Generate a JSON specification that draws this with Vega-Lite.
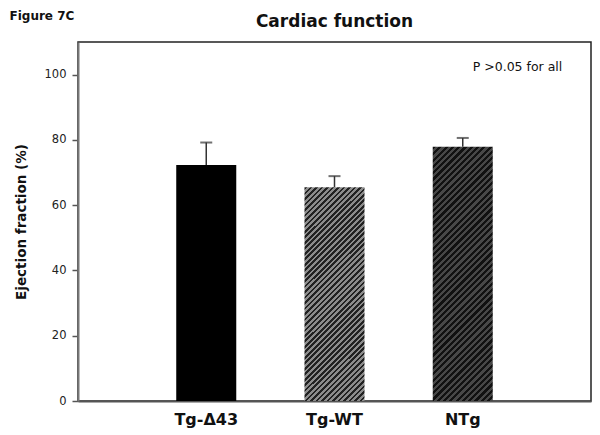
{
  "$schema": "https://vega.github.io/schema/vega-lite/v6.json",
  "width": 513,
  "height": 359,
  "autosize": {"type": "none"},
  "padding": {"left": 78, "top": 42, "right": 9, "bottom": 34},
  "background": "white",
  "config": {"view": {"stroke": "#222", "strokeWidth": 1.5}, "font": "DejaVu Sans"},
  "title": {"text": "Cardiac function", "fontSize": 17, "fontWeight": "bold", "font": "DejaVu Sans", "color": "#111", "offset": -22},
  "data": {"values": [
    {"group": "Tg-Δ43", "ef": 72.3, "upper": 79.2},
    {"group": "Tg-WT", "ef": 65.5, "upper": 68.9},
    {"group": "NTg", "ef": 77.9, "upper": 80.6}
  ]},
  "resolve": {"axis": {"x": "independent"}},
  "layer": [
    {
      "transform": [{"filter": "datum.group === 'Tg-Δ43'"}],
      "mark": {"type": "bar", "fill": "#000000"},
      "encoding": {
        "x": {"field": "group", "type": "nominal", "sort": null,
          "scale": {"domain": ["Tg-Δ43", "Tg-WT", "NTg"], "paddingInner": 0.532, "paddingOuter": 0.766},
          "axis": {"title": null, "ticks": false, "labelAngle": 0, "labelFontSize": 16, "labelFontWeight": "bold", "labelColor": "#111", "labelPadding": 10, "domainColor": "#555", "domainWidth": 2}},
        "y": {"field": "ef", "type": "quantitative", "scale": {"domain": [0, 110]},
          "axis": {"values": [0, 20, 40, 60, 80, 100], "grid": false, "title": "Ejection fraction (%)", "titleFontSize": 13.5, "titleFontWeight": "bold", "titleColor": "#111", "titlePadding": 16, "labelFontSize": 11.5, "labelColor": "#222", "labelPadding": 6, "tickSize": 6, "tickColor": "#555", "tickWidth": 1.5, "domainColor": "#777", "domainWidth": 2}}
      }
    },
    {
      "transform": [{"filter": "datum.group === 'Tg-WT'"}],
      "mark": {"type": "bar", "fill": {"gradient": "linear", "x1": 0, "y1": 0, "x2": 0.3328, "y2": 1.187, "stops": [
        {"offset": 0, "color": "#222"},
        {"offset": 0.01, "color": "#222"}, {"offset": 0.01, "color": "#8c8c8c"}, {"offset": 0.02, "color": "#8c8c8c"}, {"offset": 0.02, "color": "#222"},
        {"offset": 0.03, "color": "#222"}, {"offset": 0.03, "color": "#8c8c8c"}, {"offset": 0.04, "color": "#8c8c8c"}, {"offset": 0.04, "color": "#222"},
        {"offset": 0.05, "color": "#222"}, {"offset": 0.05, "color": "#8c8c8c"}, {"offset": 0.06, "color": "#8c8c8c"}, {"offset": 0.06, "color": "#222"},
        {"offset": 0.07, "color": "#222"}, {"offset": 0.07, "color": "#8c8c8c"}, {"offset": 0.08, "color": "#8c8c8c"}, {"offset": 0.08, "color": "#222"},
        {"offset": 0.09, "color": "#222"}, {"offset": 0.09, "color": "#8c8c8c"}, {"offset": 0.10, "color": "#8c8c8c"}, {"offset": 0.10, "color": "#222"},
        {"offset": 0.11, "color": "#222"}, {"offset": 0.11, "color": "#8c8c8c"}, {"offset": 0.12, "color": "#8c8c8c"}, {"offset": 0.12, "color": "#222"},
        {"offset": 0.13, "color": "#222"}, {"offset": 0.13, "color": "#8c8c8c"}, {"offset": 0.14, "color": "#8c8c8c"}, {"offset": 0.14, "color": "#222"},
        {"offset": 0.15, "color": "#222"}, {"offset": 0.15, "color": "#8c8c8c"}, {"offset": 0.16, "color": "#8c8c8c"}, {"offset": 0.16, "color": "#222"},
        {"offset": 0.17, "color": "#222"}, {"offset": 0.17, "color": "#8c8c8c"}, {"offset": 0.18, "color": "#8c8c8c"}, {"offset": 0.18, "color": "#222"},
        {"offset": 0.19, "color": "#222"}, {"offset": 0.19, "color": "#8c8c8c"}, {"offset": 0.20, "color": "#8c8c8c"}, {"offset": 0.20, "color": "#222"},
        {"offset": 0.21, "color": "#222"}, {"offset": 0.21, "color": "#8c8c8c"}, {"offset": 0.22, "color": "#8c8c8c"}, {"offset": 0.22, "color": "#222"},
        {"offset": 0.23, "color": "#222"}, {"offset": 0.23, "color": "#8c8c8c"}, {"offset": 0.24, "color": "#8c8c8c"}, {"offset": 0.24, "color": "#222"},
        {"offset": 0.25, "color": "#222"}, {"offset": 0.25, "color": "#8c8c8c"}, {"offset": 0.26, "color": "#8c8c8c"}, {"offset": 0.26, "color": "#222"},
        {"offset": 0.27, "color": "#222"}, {"offset": 0.27, "color": "#8c8c8c"}, {"offset": 0.28, "color": "#8c8c8c"}, {"offset": 0.28, "color": "#222"},
        {"offset": 0.29, "color": "#222"}, {"offset": 0.29, "color": "#8c8c8c"}, {"offset": 0.30, "color": "#8c8c8c"}, {"offset": 0.30, "color": "#222"},
        {"offset": 0.31, "color": "#222"}, {"offset": 0.31, "color": "#8c8c8c"}, {"offset": 0.32, "color": "#8c8c8c"}, {"offset": 0.32, "color": "#222"},
        {"offset": 0.33, "color": "#222"}, {"offset": 0.33, "color": "#8c8c8c"}, {"offset": 0.34, "color": "#8c8c8c"}, {"offset": 0.34, "color": "#222"},
        {"offset": 0.35, "color": "#222"}, {"offset": 0.35, "color": "#8c8c8c"}, {"offset": 0.36, "color": "#8c8c8c"}, {"offset": 0.36, "color": "#222"},
        {"offset": 0.37, "color": "#222"}, {"offset": 0.37, "color": "#8c8c8c"}, {"offset": 0.38, "color": "#8c8c8c"}, {"offset": 0.38, "color": "#222"},
        {"offset": 0.39, "color": "#222"}, {"offset": 0.39, "color": "#8c8c8c"}, {"offset": 0.40, "color": "#8c8c8c"}, {"offset": 0.40, "color": "#222"},
        {"offset": 0.41, "color": "#222"}, {"offset": 0.41, "color": "#8c8c8c"}, {"offset": 0.42, "color": "#8c8c8c"}, {"offset": 0.42, "color": "#222"},
        {"offset": 0.43, "color": "#222"}, {"offset": 0.43, "color": "#8c8c8c"}, {"offset": 0.44, "color": "#8c8c8c"}, {"offset": 0.44, "color": "#222"},
        {"offset": 0.45, "color": "#222"}, {"offset": 0.45, "color": "#8c8c8c"}, {"offset": 0.46, "color": "#8c8c8c"}, {"offset": 0.46, "color": "#222"},
        {"offset": 0.47, "color": "#222"}, {"offset": 0.47, "color": "#8c8c8c"}, {"offset": 0.48, "color": "#8c8c8c"}, {"offset": 0.48, "color": "#222"},
        {"offset": 0.49, "color": "#222"}, {"offset": 0.49, "color": "#8c8c8c"}, {"offset": 0.50, "color": "#8c8c8c"}, {"offset": 0.50, "color": "#222"},
        {"offset": 0.51, "color": "#222"}, {"offset": 0.51, "color": "#8c8c8c"}, {"offset": 0.52, "color": "#8c8c8c"}, {"offset": 0.52, "color": "#222"},
        {"offset": 0.53, "color": "#222"}, {"offset": 0.53, "color": "#8c8c8c"}, {"offset": 0.54, "color": "#8c8c8c"}, {"offset": 0.54, "color": "#222"},
        {"offset": 0.55, "color": "#222"}, {"offset": 0.55, "color": "#8c8c8c"}, {"offset": 0.56, "color": "#8c8c8c"}, {"offset": 0.56, "color": "#222"},
        {"offset": 0.57, "color": "#222"}, {"offset": 0.57, "color": "#8c8c8c"}, {"offset": 0.58, "color": "#8c8c8c"}, {"offset": 0.58, "color": "#222"},
        {"offset": 0.59, "color": "#222"}, {"offset": 0.59, "color": "#8c8c8c"}, {"offset": 0.60, "color": "#8c8c8c"}, {"offset": 0.60, "color": "#222"},
        {"offset": 0.61, "color": "#222"}, {"offset": 0.61, "color": "#8c8c8c"}, {"offset": 0.62, "color": "#8c8c8c"}, {"offset": 0.62, "color": "#222"},
        {"offset": 0.63, "color": "#222"}, {"offset": 0.63, "color": "#8c8c8c"}, {"offset": 0.64, "color": "#8c8c8c"}, {"offset": 0.64, "color": "#222"},
        {"offset": 0.65, "color": "#222"}, {"offset": 0.65, "color": "#8c8c8c"}, {"offset": 0.66, "color": "#8c8c8c"}, {"offset": 0.66, "color": "#222"},
        {"offset": 0.67, "color": "#222"}, {"offset": 0.67, "color": "#8c8c8c"}, {"offset": 0.68, "color": "#8c8c8c"}, {"offset": 0.68, "color": "#222"},
        {"offset": 0.69, "color": "#222"}, {"offset": 0.69, "color": "#8c8c8c"}, {"offset": 0.70, "color": "#8c8c8c"}, {"offset": 0.70, "color": "#222"},
        {"offset": 0.71, "color": "#222"}, {"offset": 0.71, "color": "#8c8c8c"}, {"offset": 0.72, "color": "#8c8c8c"}, {"offset": 0.72, "color": "#222"},
        {"offset": 0.73, "color": "#222"}, {"offset": 0.73, "color": "#8c8c8c"}, {"offset": 0.74, "color": "#8c8c8c"}, {"offset": 0.74, "color": "#222"},
        {"offset": 0.75, "color": "#222"}, {"offset": 0.75, "color": "#8c8c8c"}, {"offset": 0.76, "color": "#8c8c8c"}, {"offset": 0.76, "color": "#222"},
        {"offset": 0.77, "color": "#222"}, {"offset": 0.77, "color": "#8c8c8c"}, {"offset": 0.78, "color": "#8c8c8c"}, {"offset": 0.78, "color": "#222"},
        {"offset": 0.79, "color": "#222"}, {"offset": 0.79, "color": "#8c8c8c"}, {"offset": 0.80, "color": "#8c8c8c"}, {"offset": 0.80, "color": "#222"},
        {"offset": 0.81, "color": "#222"}, {"offset": 0.81, "color": "#8c8c8c"}, {"offset": 0.82, "color": "#8c8c8c"}, {"offset": 0.82, "color": "#222"},
        {"offset": 0.83, "color": "#222"}, {"offset": 0.83, "color": "#8c8c8c"}, {"offset": 0.84, "color": "#8c8c8c"}, {"offset": 0.84, "color": "#222"},
        {"offset": 0.85, "color": "#222"}, {"offset": 0.85, "color": "#8c8c8c"}, {"offset": 0.86, "color": "#8c8c8c"}, {"offset": 0.86, "color": "#222"},
        {"offset": 0.87, "color": "#222"}, {"offset": 0.87, "color": "#8c8c8c"}, {"offset": 0.88, "color": "#8c8c8c"}, {"offset": 0.88, "color": "#222"},
        {"offset": 0.89, "color": "#222"}, {"offset": 0.89, "color": "#8c8c8c"}, {"offset": 0.90, "color": "#8c8c8c"}, {"offset": 0.90, "color": "#222"},
        {"offset": 0.91, "color": "#222"}, {"offset": 0.91, "color": "#8c8c8c"}, {"offset": 0.92, "color": "#8c8c8c"}, {"offset": 0.92, "color": "#222"},
        {"offset": 0.93, "color": "#222"}, {"offset": 0.93, "color": "#8c8c8c"}, {"offset": 0.94, "color": "#8c8c8c"}, {"offset": 0.94, "color": "#222"},
        {"offset": 0.95, "color": "#222"}, {"offset": 0.95, "color": "#8c8c8c"}, {"offset": 0.96, "color": "#8c8c8c"}, {"offset": 0.96, "color": "#222"},
        {"offset": 0.97, "color": "#222"}, {"offset": 0.97, "color": "#8c8c8c"}, {"offset": 0.98, "color": "#8c8c8c"}, {"offset": 0.98, "color": "#222"},
        {"offset": 0.99, "color": "#222"}, {"offset": 0.99, "color": "#8c8c8c"}, {"offset": 1, "color": "#8c8c8c"}
      ]}},
      "encoding": {
        "x": {"field": "group", "type": "nominal", "sort": null, "axis": null},
        "y": {"field": "ef", "type": "quantitative"}
      }
    },
    {
      "transform": [{"filter": "datum.group === 'NTg'"}],
      "mark": {"type": "bar", "fill": {"gradient": "linear", "x1": 0, "y1": 0, "x2": 0.2766, "y2": 1.171, "stops": [
        {"offset": 0, "color": "#111"},
        {"offset": 0.01, "color": "#111"}, {"offset": 0.01, "color": "#474747"}, {"offset": 0.02, "color": "#474747"}, {"offset": 0.02, "color": "#111"},
        {"offset": 0.03, "color": "#111"}, {"offset": 0.03, "color": "#474747"}, {"offset": 0.04, "color": "#474747"}, {"offset": 0.04, "color": "#111"},
        {"offset": 0.05, "color": "#111"}, {"offset": 0.05, "color": "#474747"}, {"offset": 0.06, "color": "#474747"}, {"offset": 0.06, "color": "#111"},
        {"offset": 0.07, "color": "#111"}, {"offset": 0.07, "color": "#474747"}, {"offset": 0.08, "color": "#474747"}, {"offset": 0.08, "color": "#111"},
        {"offset": 0.09, "color": "#111"}, {"offset": 0.09, "color": "#474747"}, {"offset": 0.10, "color": "#474747"}, {"offset": 0.10, "color": "#111"},
        {"offset": 0.11, "color": "#111"}, {"offset": 0.11, "color": "#474747"}, {"offset": 0.12, "color": "#474747"}, {"offset": 0.12, "color": "#111"},
        {"offset": 0.13, "color": "#111"}, {"offset": 0.13, "color": "#474747"}, {"offset": 0.14, "color": "#474747"}, {"offset": 0.14, "color": "#111"},
        {"offset": 0.15, "color": "#111"}, {"offset": 0.15, "color": "#474747"}, {"offset": 0.16, "color": "#474747"}, {"offset": 0.16, "color": "#111"},
        {"offset": 0.17, "color": "#111"}, {"offset": 0.17, "color": "#474747"}, {"offset": 0.18, "color": "#474747"}, {"offset": 0.18, "color": "#111"},
        {"offset": 0.19, "color": "#111"}, {"offset": 0.19, "color": "#474747"}, {"offset": 0.20, "color": "#474747"}, {"offset": 0.20, "color": "#111"},
        {"offset": 0.21, "color": "#111"}, {"offset": 0.21, "color": "#474747"}, {"offset": 0.22, "color": "#474747"}, {"offset": 0.22, "color": "#111"},
        {"offset": 0.23, "color": "#111"}, {"offset": 0.23, "color": "#474747"}, {"offset": 0.24, "color": "#474747"}, {"offset": 0.24, "color": "#111"},
        {"offset": 0.25, "color": "#111"}, {"offset": 0.25, "color": "#474747"}, {"offset": 0.26, "color": "#474747"}, {"offset": 0.26, "color": "#111"},
        {"offset": 0.27, "color": "#111"}, {"offset": 0.27, "color": "#474747"}, {"offset": 0.28, "color": "#474747"}, {"offset": 0.28, "color": "#111"},
        {"offset": 0.29, "color": "#111"}, {"offset": 0.29, "color": "#474747"}, {"offset": 0.30, "color": "#474747"}, {"offset": 0.30, "color": "#111"},
        {"offset": 0.31, "color": "#111"}, {"offset": 0.31, "color": "#474747"}, {"offset": 0.32, "color": "#474747"}, {"offset": 0.32, "color": "#111"},
        {"offset": 0.33, "color": "#111"}, {"offset": 0.33, "color": "#474747"}, {"offset": 0.34, "color": "#474747"}, {"offset": 0.34, "color": "#111"},
        {"offset": 0.35, "color": "#111"}, {"offset": 0.35, "color": "#474747"}, {"offset": 0.36, "color": "#474747"}, {"offset": 0.36, "color": "#111"},
        {"offset": 0.37, "color": "#111"}, {"offset": 0.37, "color": "#474747"}, {"offset": 0.38, "color": "#474747"}, {"offset": 0.38, "color": "#111"},
        {"offset": 0.39, "color": "#111"}, {"offset": 0.39, "color": "#474747"}, {"offset": 0.40, "color": "#474747"}, {"offset": 0.40, "color": "#111"},
        {"offset": 0.41, "color": "#111"}, {"offset": 0.41, "color": "#474747"}, {"offset": 0.42, "color": "#474747"}, {"offset": 0.42, "color": "#111"},
        {"offset": 0.43, "color": "#111"}, {"offset": 0.43, "color": "#474747"}, {"offset": 0.44, "color": "#474747"}, {"offset": 0.44, "color": "#111"},
        {"offset": 0.45, "color": "#111"}, {"offset": 0.45, "color": "#474747"}, {"offset": 0.46, "color": "#474747"}, {"offset": 0.46, "color": "#111"},
        {"offset": 0.47, "color": "#111"}, {"offset": 0.47, "color": "#474747"}, {"offset": 0.48, "color": "#474747"}, {"offset": 0.48, "color": "#111"},
        {"offset": 0.49, "color": "#111"}, {"offset": 0.49, "color": "#474747"}, {"offset": 0.50, "color": "#474747"}, {"offset": 0.50, "color": "#111"},
        {"offset": 0.51, "color": "#111"}, {"offset": 0.51, "color": "#474747"}, {"offset": 0.52, "color": "#474747"}, {"offset": 0.52, "color": "#111"},
        {"offset": 0.53, "color": "#111"}, {"offset": 0.53, "color": "#474747"}, {"offset": 0.54, "color": "#474747"}, {"offset": 0.54, "color": "#111"},
        {"offset": 0.55, "color": "#111"}, {"offset": 0.55, "color": "#474747"}, {"offset": 0.56, "color": "#474747"}, {"offset": 0.56, "color": "#111"},
        {"offset": 0.57, "color": "#111"}, {"offset": 0.57, "color": "#474747"}, {"offset": 0.58, "color": "#474747"}, {"offset": 0.58, "color": "#111"},
        {"offset": 0.59, "color": "#111"}, {"offset": 0.59, "color": "#474747"}, {"offset": 0.60, "color": "#474747"}, {"offset": 0.60, "color": "#111"},
        {"offset": 0.61, "color": "#111"}, {"offset": 0.61, "color": "#474747"}, {"offset": 0.62, "color": "#474747"}, {"offset": 0.62, "color": "#111"},
        {"offset": 0.63, "color": "#111"}, {"offset": 0.63, "color": "#474747"}, {"offset": 0.64, "color": "#474747"}, {"offset": 0.64, "color": "#111"},
        {"offset": 0.65, "color": "#111"}, {"offset": 0.65, "color": "#474747"}, {"offset": 0.66, "color": "#474747"}, {"offset": 0.66, "color": "#111"},
        {"offset": 0.67, "color": "#111"}, {"offset": 0.67, "color": "#474747"}, {"offset": 0.68, "color": "#474747"}, {"offset": 0.68, "color": "#111"},
        {"offset": 0.69, "color": "#111"}, {"offset": 0.69, "color": "#474747"}, {"offset": 0.70, "color": "#474747"}, {"offset": 0.70, "color": "#111"},
        {"offset": 0.71, "color": "#111"}, {"offset": 0.71, "color": "#474747"}, {"offset": 0.72, "color": "#474747"}, {"offset": 0.72, "color": "#111"},
        {"offset": 0.73, "color": "#111"}, {"offset": 0.73, "color": "#474747"}, {"offset": 0.74, "color": "#474747"}, {"offset": 0.74, "color": "#111"},
        {"offset": 0.75, "color": "#111"}, {"offset": 0.75, "color": "#474747"}, {"offset": 0.76, "color": "#474747"}, {"offset": 0.76, "color": "#111"},
        {"offset": 0.77, "color": "#111"}, {"offset": 0.77, "color": "#474747"}, {"offset": 0.78, "color": "#474747"}, {"offset": 0.78, "color": "#111"},
        {"offset": 0.79, "color": "#111"}, {"offset": 0.79, "color": "#474747"}, {"offset": 0.80, "color": "#474747"}, {"offset": 0.80, "color": "#111"},
        {"offset": 0.81, "color": "#111"}, {"offset": 0.81, "color": "#474747"}, {"offset": 0.82, "color": "#474747"}, {"offset": 0.82, "color": "#111"},
        {"offset": 0.83, "color": "#111"}, {"offset": 0.83, "color": "#474747"}, {"offset": 0.84, "color": "#474747"}, {"offset": 0.84, "color": "#111"},
        {"offset": 0.85, "color": "#111"}, {"offset": 0.85, "color": "#474747"}, {"offset": 0.86, "color": "#474747"}, {"offset": 0.86, "color": "#111"},
        {"offset": 0.87, "color": "#111"}, {"offset": 0.87, "color": "#474747"}, {"offset": 0.88, "color": "#474747"}, {"offset": 0.88, "color": "#111"},
        {"offset": 0.89, "color": "#111"}, {"offset": 0.89, "color": "#474747"}, {"offset": 0.90, "color": "#474747"}, {"offset": 0.90, "color": "#111"},
        {"offset": 0.91, "color": "#111"}, {"offset": 0.91, "color": "#474747"}, {"offset": 0.92, "color": "#474747"}, {"offset": 0.92, "color": "#111"},
        {"offset": 0.93, "color": "#111"}, {"offset": 0.93, "color": "#474747"}, {"offset": 0.94, "color": "#474747"}, {"offset": 0.94, "color": "#111"},
        {"offset": 0.95, "color": "#111"}, {"offset": 0.95, "color": "#474747"}, {"offset": 0.96, "color": "#474747"}, {"offset": 0.96, "color": "#111"},
        {"offset": 0.97, "color": "#111"}, {"offset": 0.97, "color": "#474747"}, {"offset": 0.98, "color": "#474747"}, {"offset": 0.98, "color": "#111"},
        {"offset": 0.99, "color": "#111"}, {"offset": 0.99, "color": "#474747"}, {"offset": 1, "color": "#474747"}
      ]}},
      "encoding": {
        "x": {"field": "group", "type": "nominal", "sort": null, "axis": null},
        "y": {"field": "ef", "type": "quantitative"}
      }
    },
    {
      "mark": {"type": "rule", "color": "#333", "strokeWidth": 1.5},
      "encoding": {
        "x": {"field": "group", "type": "nominal", "sort": null,
          "axis": {"orient": "top", "labels": false, "ticks": false, "domain": false, "title": "Figure 7C", "titleFontSize": 12, "titleFontWeight": "bold", "titleColor": "#111", "titleAnchor": "start", "titleAlign": "left", "titleBaseline": "alphabetic", "titleX": -69, "titleY": -23}},
        "y": {"field": "ef", "type": "quantitative"},
        "y2": {"field": "upper"}
      }
    },
    {
      "mark": {"type": "tick", "color": "#333", "size": 12, "thickness": 2},
      "encoding": {
        "x": {"field": "group", "type": "nominal", "sort": null, "axis": null},
        "y": {"field": "upper", "type": "quantitative"}
      }
    },
    {
      "data": {"values": [{"note": "P >0.05 for all"}]},
      "mark": {"type": "text", "align": "left", "baseline": "middle", "dx": 10, "fontSize": 12.5, "color": "#111"},
      "encoding": {
        "x": {"datum": "NTg", "type": "nominal", "axis": null},
        "y": {"datum": 102.3, "type": "quantitative"},
        "text": {"field": "note"}
      }
    }
  ]
}
